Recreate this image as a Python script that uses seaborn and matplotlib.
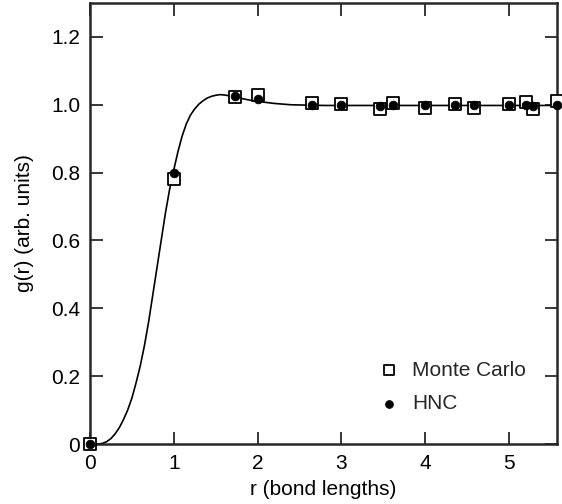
import matplotlib
matplotlib.use("Agg")
import matplotlib.pyplot as plt
import seaborn as sns
import pandas as pd

# Monte Carlo data (open squares)
r_mc = [0.0, 1.0, 1.73, 2.0, 2.65, 3.0, 3.46, 3.61, 4.0, 4.36, 4.58, 5.0, 5.2, 5.29, 5.57]
g_mc = [0.0, 0.78, 1.022, 1.028, 1.004, 1.003, 0.989, 1.005, 0.990, 1.002, 0.990, 1.003, 1.008, 0.987, 1.010]

# HNC data (filled circles)
r_hnc = [0.0, 1.0, 1.73, 2.0, 2.65, 3.0, 3.46, 3.61, 4.0, 4.36, 4.58, 5.0, 5.2, 5.29, 5.57]
g_hnc = [0.0, 0.80, 1.026, 1.018, 1.0, 1.0, 0.997, 1.0, 1.0, 1.0, 0.998, 1.0, 0.998, 0.997, 0.998]

# Smooth curve readings
r_curve = [0.0, 0.10, 0.15, 0.20, 0.25, 0.30, 0.35, 0.40, 0.45, 0.50, 0.55, 0.60, 0.65, 0.70,
           0.75, 0.80, 0.85, 0.90, 0.95, 1.00, 1.05, 1.10, 1.15, 1.20, 1.25, 1.30, 1.35, 1.40,
           1.45, 1.50, 1.55, 1.60, 1.70, 1.80, 1.90, 2.00, 2.10, 2.20, 2.30, 2.40, 2.60, 2.80,
           3.0, 3.5, 4.0, 4.5, 5.0, 5.6]
g_curve = [0.0, 0.0, 0.002, 0.007, 0.016, 0.030, 0.048, 0.072, 0.100, 0.135, 0.180, 0.230,
           0.290, 0.360, 0.440, 0.520, 0.600, 0.680, 0.750, 0.808, 0.862, 0.908, 0.944, 0.970,
           0.988, 1.002, 1.012, 1.020, 1.025, 1.028, 1.030, 1.029, 1.025, 1.019, 1.014, 1.010,
           1.007, 1.004, 1.002, 1.000, 0.999, 0.998, 0.998, 0.998, 0.998, 0.998, 0.998, 0.998]

x_ticks = [0, 1, 2, 3, 4, 5]
x_ticklabels = ["0", "1", "2", "3", "4", "5"]
y_ticks = [0, 0.2, 0.4, 0.6, 0.8, 1.0, 1.2]
y_ticklabels = ["0", "0.2", "0.4", "0.6", "0.8", "1.0", "1.2"]

sns.set_style("ticks")
plt.rcParams["font.family"] = ["Liberation Sans", "DejaVu Sans"]

fig = plt.figure(figsize=(5.62, 5.04), dpi=100)
ax = fig.add_axes([0.160, 0.119, 0.831, 0.875])

curve = pd.DataFrame({"r": r_curve, "g": g_curve})
sns.lineplot(data=curve, x="r", y="g", ax=ax, color="black", linewidth=1.2, zorder=2)

mc = pd.DataFrame({"r": r_mc, "g": g_mc})
hnc = pd.DataFrame({"r": r_hnc, "g": g_hnc})
sns.scatterplot(data=mc, x="r", y="g", ax=ax, marker="s", s=70, facecolor="white",
                edgecolor="black", linewidth=1.3, label="Monte Carlo", zorder=3, clip_on=False)
sns.scatterplot(data=hnc, x="r", y="g", ax=ax, marker="o", s=40, color="black",
                edgecolor="black", linewidth=0.5, label="HNC", zorder=4, clip_on=False)

ax.set_xlim(0, 5.57)
ax.set_ylim(0, 1.3)
ax.set_xticks(x_ticks)
ax.set_xticklabels(x_ticklabels)
ax.set_yticks(y_ticks)
ax.set_yticklabels(y_ticklabels)
ax.tick_params(direction="in", length=9, width=1.3, labelsize=15, top=True, right=True,
               pad=7, labelcolor="black")
for sp in ax.spines.values():
    sp.set_linewidth(1.8)
    sp.set_visible(True)

ax.set_xlabel("r (bond lengths)", fontsize=15, labelpad=5, color="black")
ax.set_ylabel("g(r) (arb. units)", fontsize=15, labelpad=12, color="black")

leg = ax.legend(loc="lower right", bbox_to_anchor=(0.974, 0.027), frameon=False, fontsize=15,
                handlelength=1.6, handletextpad=0.3, labelspacing=0.7, markerscale=0.9)

fig.savefig("out.png", dpi=100)
